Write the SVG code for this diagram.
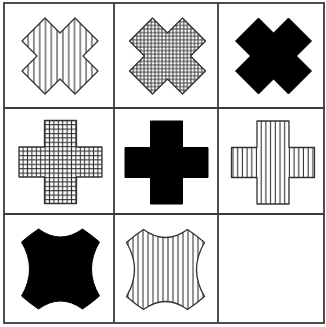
<svg xmlns="http://www.w3.org/2000/svg" width="326" height="327" viewBox="0 0 326 327">
<style>
.frame{fill:none;stroke:#3a3a3a;stroke-width:1.8}
.out{stroke:#333;stroke-width:1.3;stroke-linejoin:round}
.solid{fill:#000;stroke:#000;stroke-width:1}
</style>
<defs>
<pattern id="vh1" patternUnits="userSpaceOnUse" width="5.8" height="10"><line x1="2.9" y1="0" x2="2.9" y2="10" stroke="#333" stroke-width="1.1"/></pattern>
<pattern id="vh2" patternUnits="userSpaceOnUse" width="4.7" height="10"><line x1="2.3" y1="0" x2="2.3" y2="10" stroke="#333" stroke-width="1.1"/></pattern>
<pattern id="vh3" patternUnits="userSpaceOnUse" width="5" height="10"><line x1="2.5" y1="0" x2="2.5" y2="10" stroke="#333" stroke-width="1.1"/></pattern>
<pattern id="gr1" patternUnits="userSpaceOnUse" width="3.6" height="3.6"><path d="M1.8,0V3.6M0,1.8H3.6" stroke="#333" stroke-width="1"/></pattern>
<pattern id="gr2" patternUnits="userSpaceOnUse" width="4.4" height="4.4"><path d="M2.2,0V4.4M0,2.2H4.4" stroke="#333" stroke-width="1.1"/></pattern>
<path id="xs" d="M0,-23 L15,-38 L38,-15 L23,0 L38,15 L15,38 L0,23 L-15,38 L-38,15 L-23,0 L-38,-15 L-15,-38 Z"/>
<path id="ps" d="M-16,-41.5 H16 V-15 H41.5 V15 H16 V41.5 H-16 V15 H-41.5 V-15 H-16 Z"/>
<path id="hs" d="M-22,-40 Q0,-24 22,-40 Q31,-34 39,-27 Q23,0 39,27 Q31,34 22,40 Q0,24 -22,40 Q-31,34 -39,27 Q-23,0 -39,-27 Q-31,-34 -22,-40 Z"/>
</defs>
<g id="grid">
<rect class="frame" x="4" y="3" width="320" height="320"/>
<line class="frame" x1="114" y1="3" x2="114" y2="323"/>
<line class="frame" x1="218" y1="3" x2="218" y2="323"/>
<line class="frame" x1="4" y1="108" x2="324" y2="108"/>
<line class="frame" x1="4" y1="214" x2="324" y2="214"/>
</g>
<g id="c1"><use href="#xs" class="out" fill="url(#vh1)" transform="translate(60,56)"/></g>
<g id="c2"><use href="#xs" class="out" fill="url(#gr1)" transform="translate(167.5,56)"/></g>
<g id="c3"><use href="#xs" class="solid" transform="translate(273.5,56)"/></g>
<g id="c4"><use href="#ps" class="out" fill="url(#gr2)" transform="translate(60.5,162)"/></g>
<g id="c5"><use href="#ps" class="solid" transform="translate(166.5,162.5)"/></g>
<g id="c6"><use href="#ps" class="out" fill="url(#vh2)" transform="translate(273,162.5)"/></g>
<g id="c7"><use href="#hs" class="solid" transform="translate(60.5,269)"/></g>
<g id="c8"><use href="#hs" class="out" fill="url(#vh3)" transform="translate(165.5,269.5)"/></g>
</svg>
